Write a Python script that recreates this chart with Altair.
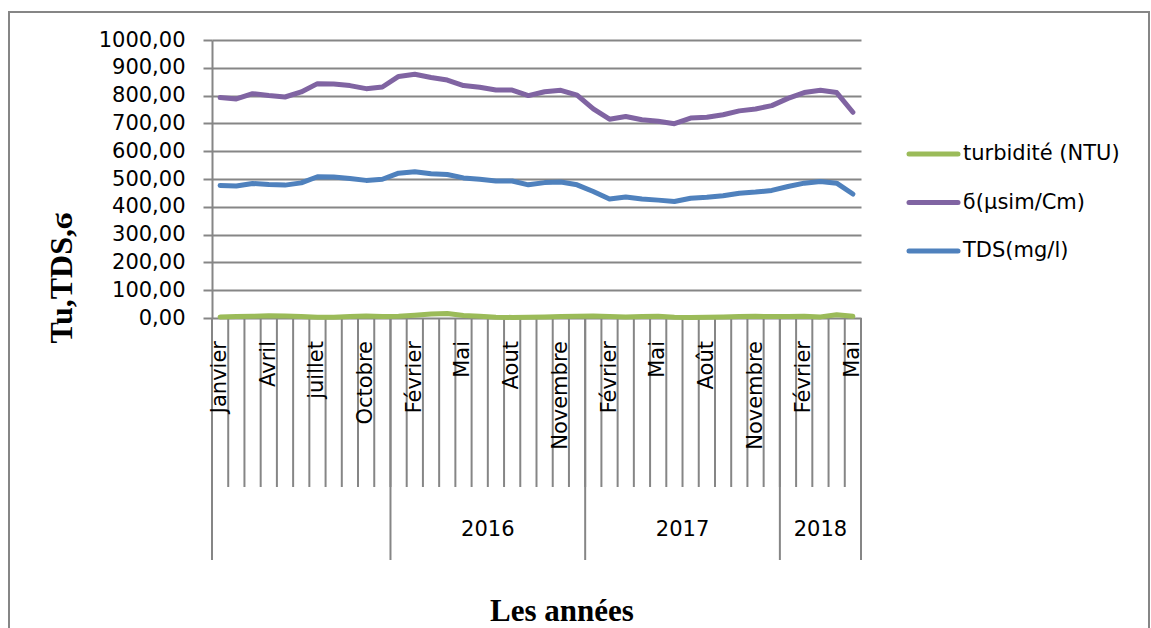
import altair as alt
import pandas as pd

# ---- data ----
months = [
    "Janvier", "Février", "Mars", "Avril", "Mai", "Juin", "juillet", "Aout", "Septembre", "Octobre", "Novembre",
    "Janvier", "Février", "Mars", "Avril", "Mai", "Juin", "Juillet", "Aout", "Septembre", "Octobre", "Novembre", "Décembre",
    "Janvier", "Février", "Mars", "Avril", "Mai", "Juin", "Juillet", "Août", "Septembre", "Octobre", "Novembre", "Décembre",
    "Janvier", "Février", "Mars", "Avril", "Mai",
]
years = ["", "2016", "2017", "2018"]
year_sizes = [11, 12, 12, 5]

turbidite = [4, 5, 6, 8, 7, 5, 3, 3, 5, 7, 5, 6, 10, 14, 16, 9, 6, 3, 2, 3,
             4, 5, 6, 7, 5, 4, 5, 6, 3, 2, 3, 4, 5, 6, 5, 5, 6, 4, 12, 6]
sigma = [793, 788, 807, 800, 795, 813, 843, 842, 836, 825, 831, 869, 877, 865, 856, 836, 830, 820, 820, 800,
         814, 819, 802, 752, 715, 725, 713, 708, 699, 719, 722, 731, 745, 752, 764, 790, 811, 819, 811, 740]
tds = [477, 475, 484, 480, 478, 486, 508, 507, 502, 495, 499, 521, 526, 519, 516, 504, 499, 493, 493, 479,
       487, 489, 479, 455, 428, 435, 428, 424, 419, 431, 434, 440, 449, 453, 459, 473, 485, 491, 485, 446]

series_names = ["turbidité (NTU)", "ϭ(µsim/Cm)", "TDS(mg/l)"]
series_colors = ["#9BBB59", "#8064A2", "#4F81BD"]

# ---- tables ----
n = len(months)
rows = []
for name, vals in zip(series_names, [turbidite, sigma, tds]):
    for i, v in enumerate(vals):
        rows.append({"series": name, "pos": i + 0.5, "value": v})
df = pd.DataFrame(rows)

month_df = pd.DataFrame({"pos": [i + 0.5 for i in range(n)], "month": months})
month_df = month_df[[i % 3 == 0 for i in range(n)]]

bounds = pd.DataFrame({"b": list(range(n + 1))})
group_edges = [0]
for s in year_sizes:
    group_edges.append(group_edges[-1] + s)
group_df = pd.DataFrame({"b": group_edges})
year_df = pd.DataFrame({
    "year": years,
    "center": [(group_edges[k] + group_edges[k + 1]) / 2 for k in range(len(years))],
})

W, H = 649, 278
GRAY = "#868686"
xscale = alt.Scale(domain=[0, n], nice=False, zero=False)
color_scale = alt.Scale(domain=series_names, range=series_colors)

lines = alt.Chart(df).mark_line(strokeWidth=5, strokeCap="round", strokeJoin="round").encode(
    x=alt.X("pos:Q", scale=xscale, axis=None),
    y=alt.Y("value:Q", scale=alt.Scale(domain=[0, 1000], nice=False),
            axis=alt.Axis(values=list(range(0, 1001, 100)),
                          labelExpr="replace(format(datum.value, '.2f'), '.', ',')",
                          labelFont="DejaVu Sans", labelFontSize=21, labelColor="black",
                          tickColor=GRAY, tickSize=9, tickWidth=2,
                          domainColor=GRAY, domainWidth=2,
                          gridColor=GRAY, gridWidth=2,
                          labelPadding=18, title=None)),
    color=alt.Color("series:N", scale=color_scale, legend=None),
    order=alt.Order("pos:Q"),
)

month_rules = alt.Chart(bounds).mark_rule(color=GRAY, strokeWidth=2).encode(
    x=alt.X("b:Q", scale=xscale, axis=None),
    y=alt.value(H), y2=alt.value(H + 169),
)
group_rules = alt.Chart(group_df).mark_rule(color=GRAY, strokeWidth=2).encode(
    x=alt.X("b:Q", scale=xscale, axis=None),
    y=alt.value(H), y2=alt.value(H + 242),
)
month_text = alt.Chart(month_df).mark_text(
    angle=270, align="right", baseline="middle", font="DejaVu Sans", fontSize=21, color="black"
).encode(
    x=alt.X("pos:Q", scale=xscale, axis=None),
    y=alt.value(H + 23),
    text="month:N",
)
year_text = alt.Chart(year_df).mark_text(
    align="center", baseline="middle", font="DejaVu Sans", fontSize=21, color="black"
).encode(
    x=alt.X("center:Q", scale=xscale, axis=None),
    y=alt.value(H + 212),
    text="year:N",
)

anchor = pd.DataFrame({"a": [0]})
border = alt.Chart(anchor).mark_rect(fillOpacity=0, stroke=GRAY, strokeWidth=2).encode(
    x=alt.value(-203), x2=alt.value(937), y=alt.value(-28), y2=alt.value(640),
)
ytitle = alt.Chart(anchor).mark_text(
    text="Tu,TDS,ϭ", angle=270, align="center", baseline="middle",
    font="Liberation Serif", fontWeight="bold", fontSize=32, color="black"
).encode(x=alt.value(-150), y=alt.value(238))
xtitle = alt.Chart(anchor).mark_text(
    text="Les années", align="center", baseline="alphabetic",
    font="Liberation Serif", fontWeight="bold", fontSize=31, color="black"
).encode(x=alt.value(350), y=alt.value(581))

legend_layers = []
leg_df = pd.DataFrame({"series": series_names})
for k, name in enumerate(series_names):
    sub = leg_df[leg_df["series"] == name]
    ypix = 114 + 48.5 * k
    legend_layers.append(
        alt.Chart(sub).mark_rule(strokeWidth=5, strokeCap="round").encode(
            x=alt.value(697), x2=alt.value(746), y=alt.value(ypix),
            color=alt.Color("series:N", scale=color_scale, legend=None),
        )
    )
    legend_layers.append(
        alt.Chart(sub).mark_text(align="left", baseline="middle", font="DejaVu Sans",
                                 fontSize=21, color="black").encode(
            x=alt.value(751), y=alt.value(ypix), text="series:N",
        )
    )

chart = alt.layer(
    border, month_rules, group_rules, lines, month_text, year_text, ytitle, xtitle, *legend_layers
).properties(
    width=W, height=H,
    autosize=alt.AutoSizeParams(type="none"),
    padding={"left": 212, "top": 40, "right": 290, "bottom": 310},
    background="white",
).configure_view(stroke=None)

chart.save("out.html", embed_options={"renderer": "svg", "actions": False})
